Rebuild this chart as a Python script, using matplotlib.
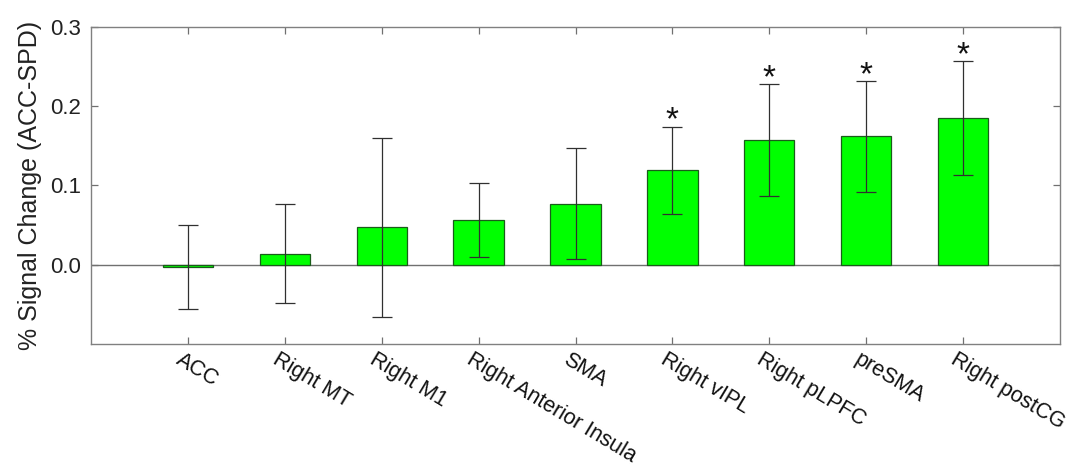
import matplotlib
matplotlib.use("Agg")
import matplotlib.pyplot as plt
import numpy as np

plt.rcParams['font.family'] = ['Liberation Sans', 'DejaVu Sans']

regions = ["ACC", "Right MT", "Right M1", "Right Anterior Insula", "SMA",
           "Right vIPL", "Right pLPFC", "preSMA", "Right postCG"]
means = [-0.003, 0.014, 0.047, 0.056, 0.077, 0.119, 0.157, 0.162, 0.185]
errors = [0.053, 0.062, 0.113, 0.047, 0.070, 0.055, 0.071, 0.070, 0.072]
significant = [False, False, False, False, False, True, True, True, True]
yticks = [0.0, 0.1, 0.2, 0.3]
ytick_labels = ["0.0", "0.1", "0.2", "0.3"]

fig = plt.figure(figsize=(10.75, 4.71), dpi=100)
ax = fig.add_axes([0.0847, 0.270, 0.9013, 0.6727])

x = np.arange(1, len(regions) + 1)
ax.axhline(0, color='#707070', lw=1.0, zorder=1)
ax.bar(x, means, width=0.52, color='#00ff00', edgecolor='#1a5c1a', linewidth=0.9, zorder=2)
ax.errorbar(x, means, yerr=errors, fmt='none', ecolor='#303030', elinewidth=0.9,
            capsize=7, capthick=0.9, zorder=3)
for xi, m, e, s in zip(x, means, errors, significant):
    if s:
        ax.text(xi, m + e + 0.007, "*", ha='center', va='center', fontsize=24,
                color='#111111')

ax.set_xlim(0, 10)
ax.set_ylim(-0.1, 0.3)
ax.set_yticks(yticks)
ax.set_yticklabels(ytick_labels, fontsize=16, color='#222222')
ax.set_xticks(x)
ax.set_xticklabels(regions, rotation=-31, ha='left', va='top', rotation_mode='anchor',
                   fontsize=15.5, color='#111111')
ax.tick_params(axis='both', direction='in', length=5, width=0.9, color='#707070',
               top=True, right=True)
ax.tick_params(axis='x', pad=4)
ax.tick_params(axis='y', pad=7)
for lab in ax.get_xticklabels():
    lab.set_transform(lab.get_transform() + matplotlib.transforms.ScaledTranslation(-5/100, 0, fig.dpi_scale_trans))
for sp in ax.spines.values():
    sp.set_color('#808080')
    sp.set_linewidth(1.0)
ax.set_ylabel("% Signal Change (ACC-SPD)", fontsize=18, color='#222222', labelpad=6)

fig.savefig("out.png", dpi=100)
